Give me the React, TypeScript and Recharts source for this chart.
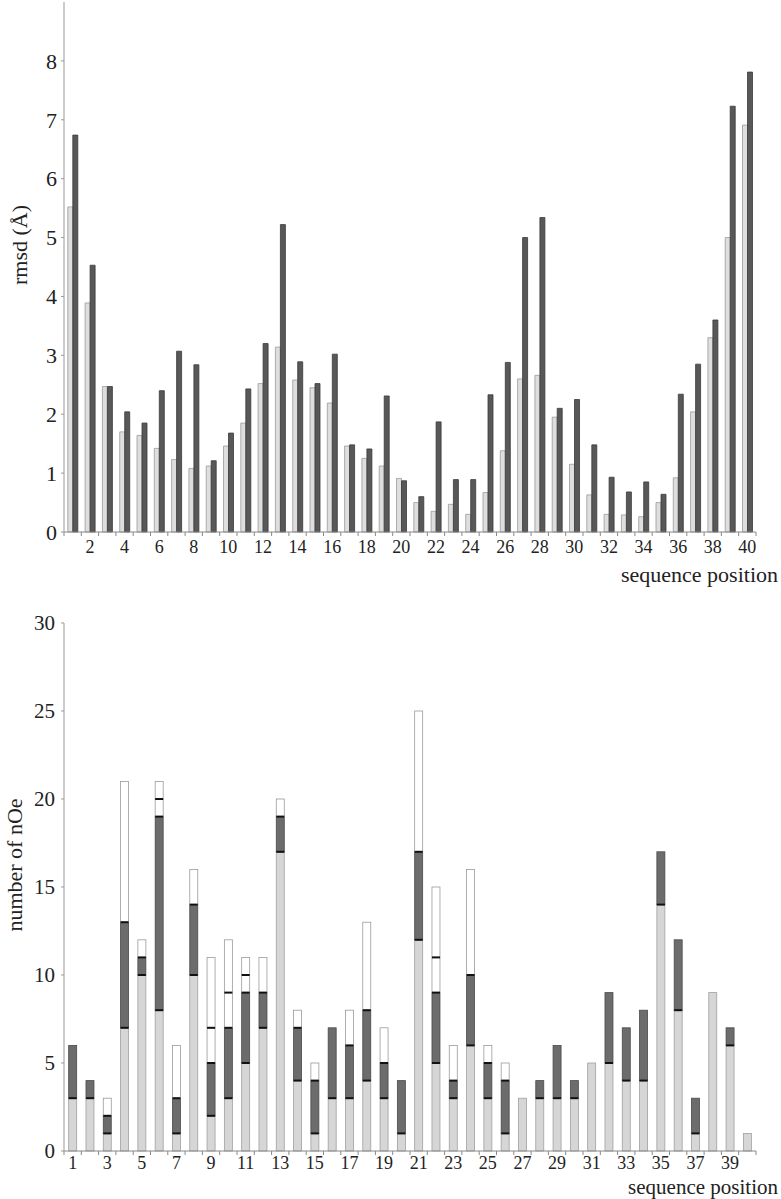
import React from "react";
import { BarChart, Bar, XAxis, YAxis } from "recharts";

const positions = [
  1, 2, 3, 4, 5, 6, 7, 8, 9, 10, 11, 12, 13, 14, 15, 16, 17, 18, 19, 20,
  21, 22, 23, 24, 25, 26, 27, 28, 29, 30, 31, 32, 33, 34, 35, 36, 37, 38, 39, 40,
];

// rmsd per residue, light bars and dark bars
const rmsdLight = [
  5.52, 3.89, 2.47, 1.7, 1.64, 1.42, 1.23, 1.08, 1.12, 1.46,
  1.85, 2.52, 3.14, 2.58, 2.45, 2.19, 1.46, 1.25, 1.12, 0.91,
  0.5, 0.35, 0.47, 0.3, 0.67, 1.38, 2.6, 2.66, 1.95, 1.15,
  0.63, 0.3, 0.29, 0.26, 0.5, 0.92, 2.04, 3.3, 5.0, 6.91,
];
const rmsdDark = [
  6.74, 4.53, 2.47, 2.04, 1.85, 2.4, 3.07, 2.84, 1.21, 1.68,
  2.43, 3.2, 5.22, 2.89, 2.52, 3.02, 1.48, 1.41, 2.31, 0.87,
  0.6, 1.87, 0.89, 0.89, 2.33, 2.88, 5.0, 5.34, 2.1, 2.25,
  1.48, 0.93, 0.68, 0.85, 0.64, 2.34, 2.85, 3.6, 7.23, 7.81,
];

// number of nOe per residue, stacked: light, dark, white, upper white
const nOeLight = [
  3, 3, 1, 7, 10, 8, 1, 10, 2, 3, 5, 7, 17, 4, 1, 3, 3, 4, 3, 1,
  12, 5, 3, 6, 3, 1, 3, 3, 3, 3, 5, 5, 4, 4, 14, 8, 1, 9, 6, 1,
];
const nOeDark = [
  3, 1, 1, 6, 1, 11, 2, 4, 3, 4, 4, 2, 2, 3, 3, 4, 3, 4, 2, 3,
  5, 4, 1, 4, 2, 3, 0, 1, 3, 1, 0, 4, 3, 4, 3, 4, 2, 0, 1, 0,
];
const nOeWhite = [
  0, 0, 1, 8, 1, 1, 3, 2, 2, 2, 1, 2, 1, 1, 1, 0, 2, 5, 2, 0,
  8, 2, 2, 6, 1, 1, 0, 0, 0, 0, 0, 0, 0, 0, 0, 0, 0, 0, 0, 0,
];
const nOeWhiteUpper = [
  0, 0, 0, 0, 0, 1, 0, 0, 4, 3, 1, 0, 0, 0, 0, 0, 0, 0, 0, 0,
  0, 4, 0, 0, 0, 0, 0, 0, 0, 0, 0, 0, 0, 0, 0, 0, 0, 0, 0, 0,
];

const rmsdTicks = [0, 1, 2, 3, 4, 5, 6, 7, 8];
const nOeTicks = [0, 5, 10, 15, 20, 25, 30];

const SERIF = "'Liberation Serif', 'Times New Roman', serif";
const W = 781;
const LEFT = 64;
const RIGHT = 25;
const BAND = (W - LEFT - RIGHT) / positions.length;

const rmsdData = positions.map((p, i) => ({ pos: p, light: rmsdLight[i], dark: rmsdDark[i] }));
const nOeData = positions.map((p, i) => ({
  pos: p,
  a: nOeLight[i],
  b: nOeDark[i],
  c: nOeWhite[i],
  d: nOeWhiteUpper[i],
}));

function PosTick(props: any) {
  const { x, y, payload, index, parity, dy } = props;
  const i = payload?.index ?? index;
  const show = payload.value % 2 === parity;
  return (
    <g>
      <line x1={x - BAND / 2} x2={x - BAND / 2} y1={y} y2={y + 4} stroke="#888" strokeWidth={1} />
      {i === positions.length - 1 && (
        <line x1={x + BAND / 2} x2={x + BAND / 2} y1={y} y2={y + 4} stroke="#888" strokeWidth={1} />
      )}
      {show && (
        <text x={x} y={y + dy} textAnchor="middle" fontFamily={SERIF} fontSize={18} fill="#222">
          {payload.value}
        </text>
      )}
    </g>
  );
}

const seqLabel = (dy: number, size: number) => (p: any) => {
  const vb = p.viewBox;
  return (
    <text x={vb.x + vb.width + 22} y={vb.y + dy} textAnchor="end" fontFamily={SERIF} fontSize={size} fill="#222">
      sequence position
    </text>
  );
};

const segment = (fill: string, stroke: string, edge: boolean) => (p: any) => {
  const { x, y, width, height } = p;
  if (!height || height <= 0) return <g />;
  return (
    <g>
      <rect x={x} y={y} width={width} height={height} fill={fill} stroke={stroke} strokeWidth={0.8} />
      {edge && <line x1={x} x2={x + width} y1={y + height} y2={y + height} stroke="#111" strokeWidth={2} />}
    </g>
  );
};

export default function App() {
  return (
    <div style={{ position: "absolute", left: 0, top: 0, width: W, height: 1199, background: "#fff" }}>
      <div style={{ position: "absolute", left: 0, top: 0 }}>
        <BarChart
          width={W}
          height={600}
          data={rmsdData}
          margin={{ top: 2, right: RIGHT, bottom: 28, left: 0 }}
          barCategoryGap="22%"
          barGap={0}
        >
          <XAxis
            dataKey="pos"
            interval={0}
            height={40}
            tickSize={0}
            tickMargin={0}
            stroke="#888"
            tick={(p: any) => <PosTick {...p} parity={0} dy={21} />}
            label={{ content: seqLabel(50, 22) } as any}
          />
          <YAxis
            width={LEFT}
            domain={[0, 9]}
            ticks={rmsdTicks}
            interval={0}
            tickSize={3}
            tickMargin={4}
            stroke="#999"
            tick={{ fontFamily: SERIF, fontSize: 22, fill: "#222" }}
            label={{
              content: () => (
                <text
                  x={27}
                  y={245}
                  transform="rotate(-90 27 245)"
                  textAnchor="middle"
                  fontFamily={SERIF}
                  fontSize={22}
                  fill="#222"
                >
                  rmsd (Å)
                </text>
              ),
            } as any}
          />
          <Bar dataKey="light" fill="#dedede" stroke="#9a9a9a" strokeWidth={0.8} isAnimationActive={false} />
          <Bar dataKey="dark" fill="#585858" stroke="#3a3a3a" strokeWidth={0.8} isAnimationActive={false} />
        </BarChart>
      </div>
      <div style={{ position: "absolute", left: 0, top: 600 }}>
        <BarChart
          width={W}
          height={599}
          data={nOeData}
          margin={{ top: 23, right: RIGHT, bottom: 8, left: 0 }}
          barCategoryGap="27%"
        >
          <XAxis
            dataKey="pos"
            interval={0}
            height={40}
            tickSize={0}
            tickMargin={0}
            stroke="#888"
            tick={(p: any) => <PosTick {...p} parity={1} dy={18} />}
            label={{ content: seqLabel(43, 21) } as any}
          />
          <YAxis
            width={LEFT}
            domain={[0, 30]}
            ticks={nOeTicks}
            interval={0}
            tickSize={3}
            tickMargin={6}
            stroke="#999"
            tick={{ fontFamily: SERIF, fontSize: 21, fill: "#222" }}
            label={{
              content: () => (
                <text
                  x={22}
                  y={265}
                  transform="rotate(-90 22 265)"
                  textAnchor="middle"
                  fontFamily={SERIF}
                  fontSize={22}
                  fill="#222"
                >
                  number of nOe
                </text>
              ),
            } as any}
          />
          <Bar dataKey="a" stackId="n" shape={segment("#d6d6d6", "#a0a0a0", false)} isAnimationActive={false} />
          <Bar dataKey="b" stackId="n" shape={segment("#6c6c6c", "#4a4a4a", true)} isAnimationActive={false} />
          <Bar dataKey="c" stackId="n" shape={segment("#ffffff", "#9a9a9a", true)} isAnimationActive={false} />
          <Bar dataKey="d" stackId="n" shape={segment("#ffffff", "#9a9a9a", true)} isAnimationActive={false} />
        </BarChart>
      </div>
    </div>
  );
}
